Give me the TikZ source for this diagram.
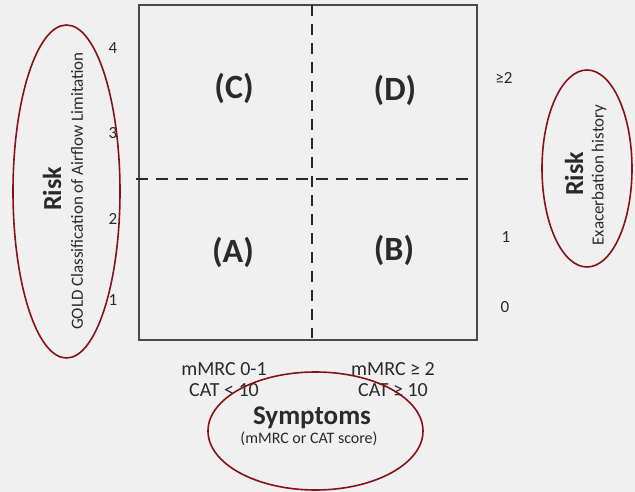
\documentclass[tikz,border=0pt]{standalone}
\usepackage{fontspec}
\setmainfont{Carlito}
\definecolor{ringred}{RGB}{135,18,22}
\definecolor{ink}{RGB}{42,42,42}
\definecolor{paper}{RGB}{240,240,240}

\begin{document}
\begin{tikzpicture}[x=1pt,y=-1pt,text=ink,
    group/.style={font=\bfseries\fontsize{34}{34}\selectfont},
    tick/.style={font=\fontsize{17}{17}\selectfont},
    axis title/.style={font=\bfseries\fontsize{26}{26}\selectfont},
    axis note/.style={font=\fontsize{17}{17}\selectfont},
    score/.style={font=\fontsize{20}{20}\selectfont},
    ring/.style={draw=ringred,line width=1.6pt},
    split/.style={draw=ink,line width=2.6pt,dash pattern=on 11pt off 8pt}]

    \fill[paper] (0,0) rectangle (635,492);
    \useasboundingbox (0,0) rectangle (635,492);

    \coordinate (nw) at (139,5);
    \coordinate (se) at (477,340);
    \coordinate (vtop) at (312,5);
    \coordinate (vbot) at (312,338);
    \coordinate (hleft) at (136,179);
    \coordinate (hright) at (474,179);

    \draw[draw=ink!85,line width=2pt] (nw) rectangle (se);
    \draw[split] (vtop) -- (vbot);
    \draw[split,line width=2pt,dash pattern=on 12pt off 8pt] (hleft) -- (hright);

    \node[group] (C) at (234,88) {(C)};
    \node[group] (D) at (395,90) {(D)};
    \node[group] (A) at (233,252) {(A)};
    \node[group] (B) at (394,250) {(B)};

    \node[tick] (g4) at (113,48) {4};
    \node[tick] (g3) at (113,133) {3};
    \node[tick] (g2) at (113,219) {2};
    \node[tick] (g1) at (113,300) {1};

    \node[tick] (e2) at (504,78) {≥2};
    \node[tick] (e1) at (506,237) {1};
    \node[tick] (e0) at (505,307) {0};

    \node[axis title,rotate=90] (riskL) at (52,189) {Risk};
    \node[axis note,rotate=90] (gold) at (77,191) {GOLD Classification of Airflow Limitation};
    \node[axis title,rotate=90] (riskR) at (574,174) {Risk};
    \node[axis note,rotate=90] (exac) at (599,175) {Exacerbation history};

    \node[score] (m01) at (224,369) {mMRC 0-1};
    \node[score] (cat0) at (224,390) {CAT < 10};
    \node[score] (m2) at (393,369) {mMRC ≥ 2};
    \node[score] (cat1) at (393,390) {CAT ≥ 10};
    \node[font=\bfseries\fontsize{27}{27}\selectfont] (symp) at (312,418) {Symptoms};
    \node[font=\fontsize{16}{16}\selectfont] (sympnote) at (309,439) {(mMRC or CAT score)};

    \draw[ring] (66.5,191.5) ellipse [x radius=53.5pt,y radius=166.5pt];
    \draw[ring] (587,168.5) ellipse [x radius=45pt,y radius=98.5pt];
    \draw[ring] (315.5,431) ellipse [x radius=107.5pt,y radius=59pt];
\end{tikzpicture}
\end{document}
